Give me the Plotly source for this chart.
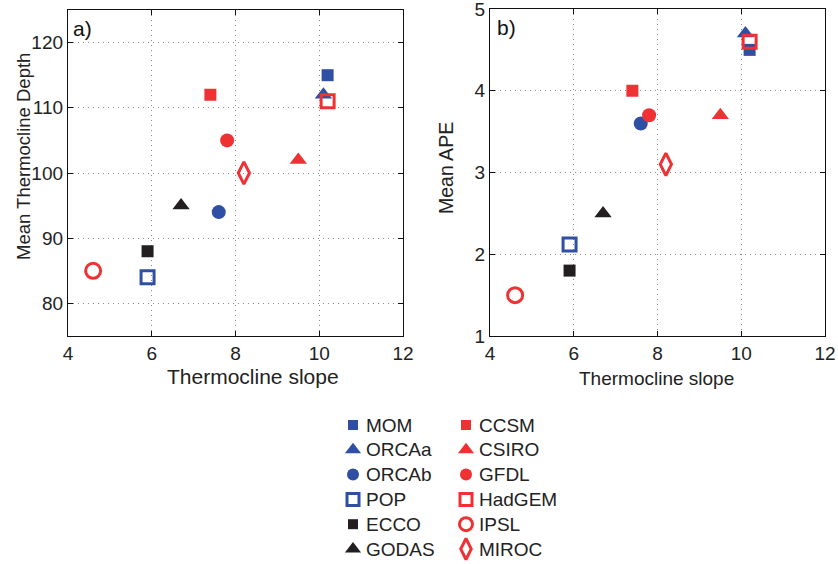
import plotly.graph_objects as go

models = ["MOM", "ORCAa", "ORCAb", "POP", "ECCO", "GODAS",
          "CCSM", "CSIRO", "GFDL", "HadGEM", "IPSL", "MIROC"]
slope = [10.2, 10.1, 7.6, 5.9, 5.9, 6.7, 7.4, 9.5, 7.8, 10.2, 4.6, 8.2]
depth = [115, 112, 94, 84, 88, 95, 112, 102, 105, 111, 85, 100]
ape = [4.5, 4.7, 3.6, 2.12, 1.8, 2.5, 4.0, 3.7, 3.7, 4.6, 1.5, 3.1]

# legend layout: column and row of each model in the key
leg_col = [0, 0, 0, 0, 0, 0, 1, 1, 1, 1, 1, 1]
leg_row = [0, 1, 2, 3, 4, 5, 0, 1, 2, 3, 4, 5]

BLUE = "#2E4FA3"
RED = "#EE3234"
BLACK = "#231F20"
colors = [BLUE, BLUE, BLUE, BLUE, BLACK, BLACK, RED, RED, RED, RED, RED, RED]
symbols = ["square", "triangle-up", "circle", "square-open", "square", "triangle-up",
           "square", "triangle-up", "circle", "square-open", "circle-open", "diamond-tall-open"]
sizes = [12, 15, 14, 13, 12, 15, 12, 15, 14, 13, 15, 16]
leg_sizes = [10, 14, 12, 12, 10, 14, 10, 14, 12, 12, 13, 15]

FONT = "Liberation Sans, Arial, Helvetica, sans-serif"
W, H = 838, 564


def px(x):
    return x / W


def py(y):
    return (H - y) / H


fig = go.Figure()
for i, m in enumerate(models):
    lw = 3 if "open" in symbols[i] else 0
    mk = dict(symbol=symbols[i], color=colors[i], size=sizes[i],
              line=dict(width=lw, color=colors[i]))
    fig.add_trace(go.Scatter(x=[slope[i]], y=[depth[i]], mode="markers", name=m,
                             marker=mk, showlegend=False, xaxis="x", yaxis="y"))
    fig.add_trace(go.Scatter(x=[slope[i]], y=[ape[i]], mode="markers", name=m,
                             marker=mk, showlegend=False, xaxis="x2", yaxis="y2"))
    fig.add_trace(go.Scatter(x=[leg_col[i]], y=[leg_row[i]], mode="markers", name=m,
                             marker=dict(symbol=symbols[i], color=colors[i], size=leg_sizes[i],
                                         line=dict(width=lw, color=colors[i])),
                             showlegend=False, xaxis="x3", yaxis="y3", cliponaxis=False))

ax = dict(showline=True, linecolor="#111", linewidth=1.3, mirror="allticks",
          ticks="inside", ticklen=5, tickcolor="#111", showgrid=True,
          gridcolor="#8a8a8a", griddash="1px,4px", gridwidth=1, zeroline=False,
          automargin=False, ticklabeloverflow="allow",
          tickfont=dict(size=19, color="#222", family=FONT))
hid = dict(visible=False, showgrid=False, zeroline=False, automargin=False, fixedrange=True)

annotations = [
    dict(text="a)", x=4, y=125, xref="x", yref="y", xanchor="left", yanchor="top",
         xshift=3, yshift=-5, showarrow=False, font=dict(size=21, color="#111")),
    dict(text="b)", x=4, y=5, xref="x2", yref="y2", xanchor="left", yanchor="top",
         xshift=5, yshift=-5, showarrow=False, font=dict(size=21, color="#111")),
    dict(text="Thermocline slope", x=px(253), y=py(376), xref="paper", yref="paper",
         xanchor="center", yanchor="middle",
         showarrow=False, font=dict(size=21, color="#222")),
    dict(text="Thermocline slope", x=px(656), y=py(378), xref="paper", yref="paper",
         xanchor="center", yanchor="middle",
         showarrow=False, font=dict(size=19, color="#222")),
    dict(text="Mean Thermocline Depth", x=px(23), y=py(157), xref="paper", yref="paper",
         xanchor="center", yanchor="middle",
         textangle=-90, showarrow=False, font=dict(size=18.5, color="#222")),
    dict(text="Mean APE", x=px(446), y=py(168), xref="paper", yref="paper",
         xanchor="center", yanchor="middle",
         textangle=-90, showarrow=False, font=dict(size=19.5, color="#222")),
]
for i, m in enumerate(models):
    annotations.append(dict(text=m, x=leg_col[i], y=leg_row[i], xref="x3", yref="y3",
                            xanchor="left", yanchor="middle", xshift=11, showarrow=False,
                            font=dict(size=19, color="#222")))

fig.update_layout(
    width=W, height=H, margin=dict(l=0, r=0, t=0, b=0, autoexpand=False),
    paper_bgcolor="white", plot_bgcolor="white",
    font=dict(family=FONT, color="#222"),
    showlegend=False, hovermode=False,
    xaxis=dict(ax, domain=[px(68), px(403)], range=[4, 12], dtick=2),
    yaxis=dict(ax, domain=[py(336), py(10)], range=[75, 125], dtick=10),
    xaxis2=dict(ax, domain=[px(490), px(825)], range=[4, 12], dtick=2, anchor="y2"),
    yaxis2=dict(ax, domain=[py(336), py(9)], range=[1, 5], dtick=1, anchor="x2"),
    xaxis3=dict(hid, domain=[px(353), px(466)], range=[0, 1], anchor="y3"),
    yaxis3=dict(hid, domain=[py(549), py(425)], range=[5, 0], anchor="x3"),
    annotations=annotations,
)
fig.write_html("out.html", config={"displayModeBar": False},
               post_script="document.body.style.margin='0';document.body.style.overflow='hidden';")
